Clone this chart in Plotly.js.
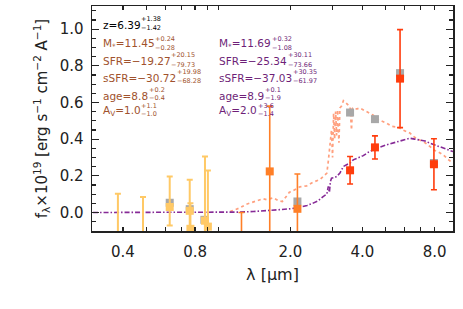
<!DOCTYPE html>
<html>
<head>
<meta charset="utf-8">
<script src="https://cdn.plot.ly/plotly-3.0.1.min.js"></script>
<style>html,body{margin:0;padding:0;background:#fff;}#chart{width:463px;height:309px;}</style>
</head>
<body>
<div id="chart"></div>
<script>
// ---- model spectra ----
const salmonWave = [1.12,1.23,1.31,1.42,1.54,1.59,1.70,1.78,1.85,1.93,1.98,2.03,2.19,2.34,2.49,2.66,2.74,2.84,2.88,2.93,2.97,3.00,3.03,3.06,3.09,3.12,3.15,3.19,3.22,3.27,3.33,3.40,3.47,3.55,3.60,3.63,3.68,3.80,3.90,4.03,4.20,4.44,4.60,4.80,5.05,5.30,5.64,5.90,6.31,6.60,6.95,7.30,7.65,7.95,8.30,8.70,9.10,9.55];
const salmonFlux = [0.005,0.025,0.045,0.06,0.075,0.07,0.08,0.065,0.06,0.09,0.11,0.115,0.14,0.145,0.165,0.18,0.196,0.215,0.28,0.36,0.45,0.30,0.54,0.40,0.55,0.42,0.56,0.38,0.57,0.58,0.61,0.60,0.59,0.575,0.45,0.57,0.565,0.565,0.57,0.56,0.55,0.53,0.51,0.50,0.487,0.47,0.465,0.45,0.433,0.41,0.396,0.38,0.36,0.34,0.33,0.314,0.29,0.269];
const purpleWave = [0.30,0.45,0.60,0.80,1.00,1.20,1.40,1.59,1.81,2.00,2.19,2.35,2.49,2.62,2.74,2.84,2.88,2.91,2.94,2.97,3.05,3.12,3.22,3.33,3.45,3.55,3.66,3.85,4.03,4.25,4.44,4.70,5.05,5.35,5.64,6.00,6.31,6.60,6.95,7.30,7.65,8.20,8.70,9.10,9.55];
const purpleFlux = [0,0,0,0,0,0.002,0.005,0.009,0.015,0.02,0.029,0.038,0.051,0.065,0.087,0.10,0.142,0.11,0.17,0.187,0.19,0.196,0.215,0.251,0.262,0.269,0.287,0.30,0.31,0.33,0.342,0.355,0.369,0.378,0.387,0.395,0.405,0.40,0.396,0.39,0.378,0.365,0.351,0.342,0.332];

// ---- model photometry (grey) ----
const modelWave = [0.627,0.760,0.875,2.14,3.55,4.51,5.74,7.95];
const modelFlux = [0.053,0.018,-0.04,0.06,0.545,0.509,0.76,0.27];

// ---- observed photometry ----
const optWave = [0.381,0.485,0.627,0.760,0.765,0.880,0.905];
const optFlux = [-0.15,-0.16,0.03,0.009,-0.089,-0.045,-0.077];
const optErrPlus = [0.252,0.244,0.166,0.169,0.14,0.35,0.306];
const optErrMinus = [0.252,0.244,0.101,0.169,0.14,0.35,0.306];
const nirWave = [1.25,1.64,2.14];
const nirFlux = [-0.2,0.224,0.02];
const nirErr = [0.2,0.356,0.19];
const iracWave = [3.55,4.51,5.74,7.95];
const iracFlux = [0.23,0.355,0.73,0.263];
const iracErr = [0.075,0.063,0.267,0.139];

// ---- axis ticks ----
const xTickVals = [0.4,0.8,2,4,8];
const xTickText = ["0.4","0.8","2.0","4.0","8.0"];
const xMinorVals = [0.5,0.6,0.7,0.9,1,3,5,6,7];

// ---- fit parameter labels ----
const labelMain = ["z=6.39","M<sub>*</sub>=11.45","SFR=\u221219.27","sSFR=\u221230.72","age=8.8","A<sub>V</sub>=1.0",
                   "M<sub>*</sub>=11.69","SFR=\u221225.34","sSFR=\u221237.03","age=8.9","A<sub>V</sub>=2.0"];
const labelSup = ["+1.38","+0.24","+20.15","+19.98","+0.2","+1.1","+0.32","+30.11","+30.35","+0.1","+3.6"];
const labelSub = ["\u22121.42","\u22120.28","\u221279.73","\u221268.28","\u22120.4","\u22121.0","\u22121.08","\u221273.66","\u221261.97","\u22121.9","\u22121.4"];
const labelColor = ["#000000","#A0522D","#A0522D","#A0522D","#A0522D","#A0522D","#6E1F78","#6E1F78","#6E1F78","#6E1F78","#6E1F78"];
const labelCol = [0,0,0,0,0,0,1,1,1,1,1];
const labelRow = [0,1,2,3,4,5,1,2,3,4,5];

// layout geometry (pixels)
const W = 463, H = 309, ML = 92, MR = 10, MT = 6, MB = 78;
const PW = W - ML - MR, PH = H - MT - MB;
const colPx = [101.7, 218.3];
const rowMain = [24.6, 44.4, 61.0, 78.4, 96.2, 111.0];
const rowSup = [18.6, 38.9, 54.6, 72.3, 90.3, 106.2];
const rowSub = [28.4, 48.4, 64.6, 81.0, 98.4, 114.3];
const supPxRef = [144, 143.3, 162.7, 167.7, 137.3, 137.7, 270.7, 290.7, 297.3, 265, 256];
function px2x(px){ return (px - ML) / PW; }
function py2y(py){ return (H - MB - py) / PH; }

const FONT = "DejaVu Sans";
const annotations = [];
for (let i = 0; i < labelMain.length; i++) {
  const c = labelColor[i];
  const r = labelRow[i];
  annotations.push({text: labelMain[i], x: px2x(colPx[labelCol[i]]), y: py2y(rowMain[r]),
    xref: "paper", yref: "paper", xanchor: "left", yanchor: "middle", showarrow: false,
    borderpad: 0, font: {family: FONT, size: 10.5, color: c}});
  annotations.push({text: labelSup[i], x: px2x(supPxRef[i]), y: py2y(rowSup[r]),
    xref: "paper", yref: "paper", xanchor: "left", yanchor: "middle", showarrow: false,
    borderpad: 0, font: {family: FONT, size: 6.5, color: c}});
  annotations.push({text: labelSub[i], x: px2x(supPxRef[i]), y: py2y(rowSub[r]),
    xref: "paper", yref: "paper", xanchor: "left", yanchor: "middle", showarrow: false,
    borderpad: 0, font: {family: FONT, size: 6.5, color: c}});
}

const traces = [
  {x: salmonWave, y: salmonFlux, type: "scatter", mode: "lines",
   line: {color: "#FFA07F", width: 1.7, dash: "dot"}, hoverinfo: "skip"},
  {x: purpleWave, y: purpleFlux, type: "scatter", mode: "lines",
   line: {color: "#862A96", width: 1.6, dash: "5px,2px,1.5px,2px"}, hoverinfo: "skip"},
  {x: modelWave, y: modelFlux, type: "scatter", mode: "markers",
   marker: {symbol: "square", size: 8, color: "#A8A8A8"}},
  {x: optWave, y: optFlux, type: "scatter", mode: "markers",
   marker: {symbol: "square", size: 8, color: "#FFC966"},
   error_y: {type: "data", symmetric: false, array: optErrPlus, arrayminus: optErrMinus,
             color: "#FFC966", thickness: 2, width: 3}},
  {x: nirWave, y: nirFlux, type: "scatter", mode: "markers",
   marker: {symbol: "square", size: 8, color: "#FF7F27"},
   error_y: {type: "data", array: nirErr, color: "#FF7F27", thickness: 1.6, width: 3}},
  {x: iracWave, y: iracFlux, type: "scatter", mode: "markers",
   marker: {symbol: "square", size: 8, color: "#FF3D0D"},
   error_y: {type: "data", array: iracErr, color: "#FF3D0D", thickness: 1.6, width: 3}}
];

const layout = {
  width: W, height: H,
  margin: {l: ML, r: MR, t: MT, b: MB, pad: 0},
  paper_bgcolor: "#ffffff", plot_bgcolor: "#ffffff",
  showlegend: false,
  font: {family: FONT, color: "#222222"},
  xaxis: {
    type: "log", range: [Math.log10(0.297), Math.log10(9.55)],
    tickmode: "array", tickvals: xTickVals, ticktext: xTickText,
    ticks: "inside", ticklen: 4, tickwidth: 1.2, tickcolor: "#222",
    minor: {tickmode: "array", tickvals: xMinorVals, ticks: "inside", ticklen: 4, tickwidth: 1.2, tickcolor: "#222", showgrid: false},
    showline: true, linecolor: "#222", linewidth: 1.5, mirror: "ticks",
    showgrid: false, zeroline: false,
    tickfont: {family: FONT, size: 15, color: "#222"},
    ticklabelstandoff: 6,
    title: {text: "\u03bb [\u03bcm]", font: {family: FONT, size: 16, color: "#222"}, standoff: 9}
  },
  yaxis: {
    range: [-0.101, 1.126], tick0: 0, dtick: 0.2, tickformat: ".1f",
    ticks: "inside", ticklen: 7, tickwidth: 1.2, tickcolor: "#222",
    minor: {dtick: 0.05, ticklen: 4, tickwidth: 1.2, tickcolor: "#222", ticks: "inside", showgrid: false},
    showline: true, linecolor: "#222", linewidth: 1.5, mirror: "ticks",
    showgrid: false, zeroline: false,
    tickfont: {family: FONT, size: 15, color: "#222"},
    ticklabelstandoff: 4,
    title: {text: "f<sub>\u03bb</sub>\u00d710<sup>19</sup> [erg s<sup>\u22121</sup> cm<sup>\u22122</sup> A<sup>\u22121</sup>]",
            font: {family: FONT, size: 15, color: "#222"}, standoff: 8}
  },
  annotations: annotations
};

const gd = document.getElementById("chart");
Plotly.newPlot(gd, traces, layout, {staticPlot: true, displayModeBar: false}).then(function () {
  const upd = {};
  for (let i = 0; i < labelMain.length; i++) {
    const el = gd.querySelector('.annotation[data-index="' + (3 * i) + '"] .annotation-text');
    if (!el) continue;
    const w = el.getBBox().width;
    const xp = px2x(colPx[labelCol[i]] + w + 1);
    upd["annotations[" + (3 * i + 1) + "].x"] = xp;
    upd["annotations[" + (3 * i + 2) + "].x"] = xp;
  }
  return Plotly.relayout(gd, upd);
});
</script>
</body>
</html>
